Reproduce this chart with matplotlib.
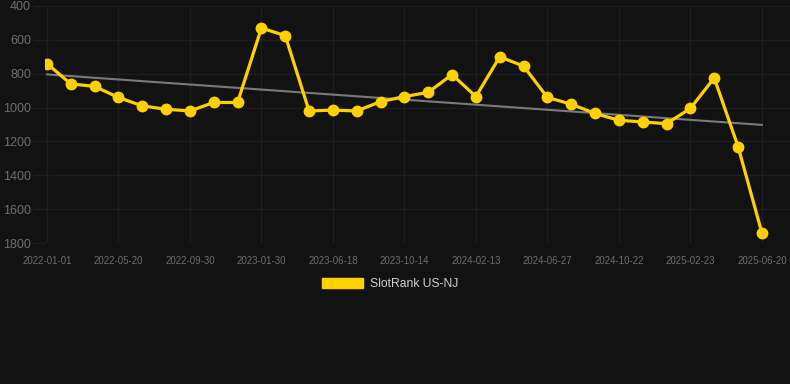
import numpy as np
import matplotlib
matplotlib.use("Agg")
import matplotlib.pyplot as plt
from matplotlib.patches import Patch

# SlotRank US-NJ ranking over time (lower is better, axis inverted)
tick_dates = ["2022-01-01", "2022-05-20", "2022-09-30", "2023-01-30", "2023-06-18",
              "2023-10-14", "2024-02-13", "2024-06-27", "2024-10-22", "2025-02-23",
              "2025-06-20"]
rank = [740, 860, 875, 940, 990, 1010, 1020, 970, 970, 530,
        575, 1020, 1015, 1020, 965, 935, 910, 805, 935, 700,
        755, 940, 980, 1035, 1075, 1085, 1095, 1005, 825, 1230,
        1740]
y_ticks = [400, 600, 800, 1000, 1200, 1400, 1600, 1800]

bg = "#121212"
yellow = "#ffd000"
grid_c = "#1e1e1e"

plt.rcParams["font.family"] = ["Liberation Sans", "DejaVu Sans"]

fig = plt.figure(figsize=(7.9, 3.84), dpi=100, facecolor=bg)
ax = fig.add_axes([45 / 790, (384 - 243) / 384, 745 / 790, 237 / 384])
ax.set_facecolor(bg)

x = np.arange(len(rank))
# trend line (least squares)
k, b = np.polyfit(x, rank, 1)
ax.plot(x, k * x + b, color="#7a7a7a", lw=1.5, zorder=2)
ax.plot(x, rank, color=yellow, lw=2.3, marker="o", ms=7.5, zorder=3)

ax.set_xlim(-0.08, 31.18)
ax.set_ylim(1800, 400)
ax.set_yticks(y_ticks)
ax.set_xticks(x[::3])
ax.set_xticklabels(tick_dates)

ax.grid(True, color=grid_c, lw=1)
ax.set_axisbelow(True)
for s in ax.spines.values():
    s.set_visible(False)
ax.tick_params(axis="x", length=0, pad=9, labelsize=7, labelcolor="#6e6e6e")
ax.tick_params(axis="y", length=9, width=1, color=grid_c, pad=1,
               labelsize=9, labelcolor="#6e6e6e")

leg = fig.legend(handles=[Patch(facecolor=yellow, edgecolor=yellow, label="SlotRank US-NJ")],
                 loc="center", bbox_to_anchor=(390 / 790, 1 - 284 / 384),
                 frameon=False, fontsize=8.7, handlelength=3.4, handleheight=0.85,
                 handletextpad=0.55)
for t in leg.get_texts():
    t.set_color("#d0d0d0")

fig.savefig("out.png", dpi=100, facecolor=bg)
